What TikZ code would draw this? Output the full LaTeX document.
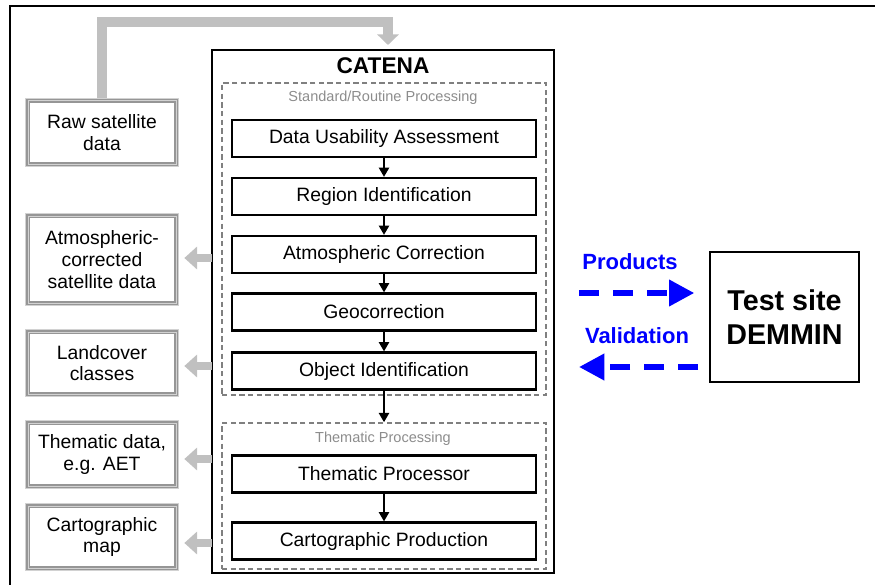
\documentclass[tikz,border=0pt]{standalone}
\usepackage{fontspec}
\setmainfont{Liberation Sans}
\usetikzlibrary{arrows.meta}
\definecolor{arrgray}{RGB}{192,192,192}
\definecolor{framegray}{RGB}{150,150,150}
\definecolor{bandgray}{RGB}{210,210,210}
\definecolor{dashgray}{RGB}{128,128,128}
\definecolor{labgray}{RGB}{140,140,140}
\begin{document}
\begin{tikzpicture}[x=0.75pt,y=-0.75pt,
  procbox/.style={draw=black,line width=1.6pt,minimum width=228pt,minimum height=27.75pt,inner sep=0pt,
    font=\fontsize{14.5}{16.2}\selectfont},
  sidebox/.style={draw=none,outer sep=0pt,minimum width=115.5pt,inner sep=0pt,align=center,
    font=\fontsize{14.5}{16.2}\selectfont},
  grayarr/.style={draw=arrgray,line width=6pt,-{Triangle[width=16.5pt,length=9.5pt]},line join=miter},
  blkarr/.style={draw=black,line width=1.9pt,-{Triangle[width=7.5pt,length=7pt]}},
  bluearr/.style={draw=blue,line width=4.5pt,dash pattern=on 15pt off 10.5pt,-{Triangle[width=19pt,length=19pt]}},
  dashbox/.style={draw=dashgray,line width=1.1pt,dash pattern=on 4pt off 2.5pt},
  graylab/.style={text=labgray,font=\fontsize{10.9}{12}\selectfont},
  bluelab/.style={text=blue,font=\bfseries\fontsize{16.5}{18}\selectfont}
]
\useasboundingbox (0,0) rectangle (875,585);
% outer frame
\draw[line width=1.1pt] (875,6) -- (10,6) -- (10,590);

% CATENA box
\node[draw=black,line width=0.8pt,minimum width=256.5pt,minimum height=392.25pt,inner sep=0pt] (catena) at (383,311.5) {};
\node[font=\bfseries\fontsize{17}{19}\selectfont] (title) at (383,65.5) {CATENA};

% dashed groups
\node[dashbox,minimum width=243pt,minimum height=234pt,inner sep=0pt] (std) at (384,239) {};
\node[dashbox,minimum width=243pt,minimum height=109.5pt,inner sep=0pt] (thm) at (384,496) {};
\node[graylab] (stdlab) at (383,98) {Standard/Routine Processing};
\node[graylab] (thmlab) at (383,439) {Thematic Processing};

% process boxes
\node[procbox] (dua) at (384,138.5) {Data Usability Assessment};
\node[procbox] (rid) at (384,196.5) {Region Identification};
\node[procbox] (atm) at (384,254.5) {Atmospheric Correction};
\node[procbox] (geo) at (384,312) {Geocorrection};
\node[procbox] (obj) at (384,371) {Object Identification};
\node[procbox] (thp) at (384,474) {Thematic Processor};
\node[procbox] (cap) at (384,541) {Cartographic Production};

\draw[blkarr] (dua.south) -- (rid.north);
\draw[blkarr] (rid.south) -- (atm.north);
\draw[blkarr] (atm.south) -- (geo.north);
\draw[blkarr] (geo.south) -- (obj.north);
\draw[blkarr] (obj.south) -- (thm.north);
\draw[blkarr] (thp.south) -- (cap.north);

% side boxes
\foreach \n/\y/\h/\t in {raw/132.5/51.75/{Raw satellite\\data},
                        atmc/259.5/69.75/{Atmospheric-\\corrected\\satellite data},
                        land/363/51/{Landcover\\classes},
                        them/454.5/51.75/{Thematic data,\\e.g. AET},
                        carto/537/51/{Cartographic\\map}}{
  \node[sidebox,minimum height=\h pt] (\n) at (102,\y) {\t};
  \draw[draw=framegray,line width=3.75pt]
    ([shift={(1.875pt,-1.875pt)}]\n.north west) rectangle ([shift={(-1.875pt,1.875pt)}]\n.south east);
  \draw[draw=bandgray,line width=0.75pt]
    ([shift={(0.375pt,-0.375pt)}]\n.north west) rectangle ([shift={(-0.375pt,0.375pt)}]\n.south east);
  \draw[draw=bandgray,line width=0.75pt]
    ([shift={(2.25pt,-2.25pt)}]\n.north west) rectangle ([shift={(-2.25pt,2.25pt)}]\n.south east);
}

% gray output arrows
\coordinate (a1) at (212,258);
\coordinate (a2) at (212,366);
\coordinate (a3) at (212,459);
\coordinate (a4) at (212,543);
\draw[grayarr,shorten >=4pt] (a1) -- (a1 -| atmc.east);
\draw[grayarr,shorten >=4pt] (a2) -- (a2 -| land.east);
\draw[grayarr,shorten >=4pt] (a3) -- (a3 -| them.east);
\draw[grayarr,shorten >=4pt] (a4) -- (a4 -| carto.east);

% top input arrow
\coordinate (tc) at (388,22.5);
\draw[draw=arrgray,line width=7.5pt,line join=miter,-{Triangle[width=16pt,length=8pt]}]
  (raw.north) -- (raw.north |- tc) -- (tc) -- (388,45);

% test site
\node[draw=black,line width=1.5pt,minimum width=111.75pt,minimum height=97.5pt,inner sep=0pt,align=center,
      font=\bfseries\fontsize{21.5}{26}\selectfont] (demmin) at (784.5,317) {Test site\\DEMMIN};
\node[bluelab] (prod) at (630,262) {Products};
\node[bluelab] (val) at (637,336) {Validation};
\coordinate (p0) at (579,293);
\coordinate (v0) at (579,367);
\draw[bluearr,shorten >=11pt] (p0) -- (p0 -| demmin.west);
\draw[bluearr] (v0 -| demmin.west) ++(-11,0) -- (v0);
\end{tikzpicture}
\end{document}
